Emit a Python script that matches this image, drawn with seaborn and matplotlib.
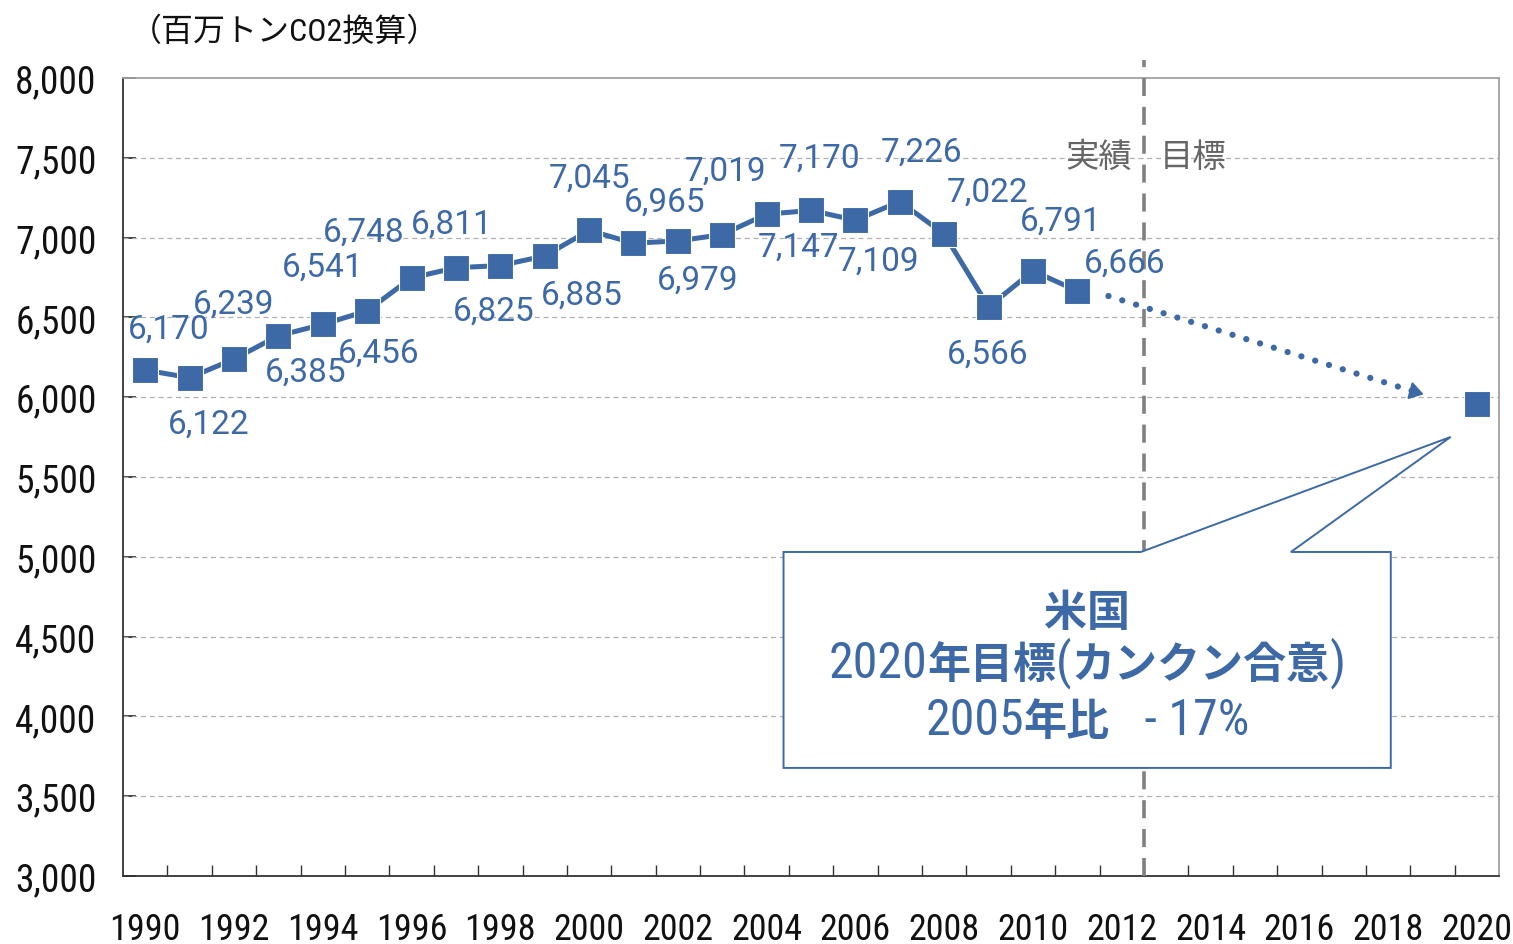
import matplotlib
matplotlib.use("Agg")
import matplotlib.pyplot as plt
from matplotlib import font_manager
from matplotlib.transforms import offset_copy
import seaborn as sns
import pandas as pd
from matplotlib.patches import Polygon
from matplotlib.ticker import FixedLocator, FuncFormatter

# ---------------- data ----------------
years = list(range(1990, 2012))
emissions = [6170, 6122, 6239, 6385, 6456, 6541, 6748, 6811, 6825, 6885,
             7045, 6965, 6979, 7019, 7147, 7170, 7109, 7226, 7022, 6566,
             6791, 6666]
target_year = [2020]
target_value = [5956]
year_ticks = list(range(1990, 2021, 2))
y_ticks = list(range(3000, 8001, 500))
unit_label = "（百万トンCO2換算）"
# callout lines split into (text, is_cjk_bold) pieces
callout_lines = [
    [("米国", True)],
    [("2020", False), ("年目標", True), ("(", False), ("カンクン合意", True), (")", False)],
    [("2005", False), ("年比", True), ("   - 17%", False)],
]
label_actual = "実績"
label_target = "目標"
# label offsets in pixels (dx, dy) relative to each point (positions only)
label_offsets = [(23, 41), (19, -46), (0, 55), (27, -36), (56, -28), (-44, 44),
                 (-48, 46), (-4, 44), (-7, -45), (37, -39), (0, 53), (31, 42),
                 (20, -39), (3, 64), (32, -33), (9, 53), (23, -40), (22, 50),
                 (43, 42), (-1, -47), (28, 50), (47, 28)]

BLUE = "#3D69A7"
GRAY = "#808080"

available = {f.name for f in font_manager.fontManager.ttflist}
narrow_pick = None
for cand in ["Liberation Sans Narrow", "DejaVu Sans Condensed",
             "Roboto Condensed", "Open Sans Condensed", "Noto Sans Condensed",
             "Arial Narrow"]:
    if cand in available:
        narrow_pick = cand
        break

sns.set_theme(style="white")
plt.rcParams['font.family'] = ['Roboto', 'Noto Sans CJK JP', 'DejaVu Sans']
if narrow_pick:
    NARROW = [narrow_pick, 'Noto Sans CJK JP', 'DejaVu Sans']
    tick_size = 27
else:
    NARROW = ['Roboto', 'Noto Sans CJK JP', 'DejaVu Sans']
    tick_size = 23
CJK = ['Noto Sans CJK JP', 'DejaVu Sans']

fig = plt.figure(figsize=(15.13, 9.45), dpi=100)
ax = fig.add_axes([0.0813, 0.0720, 0.9908 - 0.0813, 0.9164 - 0.0720])

df = pd.DataFrame({"year": years, "value": emissions})
sns.lineplot(data=df, x="year", y="value", ax=ax, color=BLUE, linewidth=3.6,
             marker="s", markersize=19, markeredgecolor="white",
             markeredgewidth=0.8, zorder=4)
dft = pd.DataFrame({"year": target_year, "value": target_value})
sns.scatterplot(data=dft, x="year", y="value", ax=ax, color=BLUE, marker="s",
                s=19 ** 2, edgecolor="white", linewidth=0.8, zorder=4)

ax.set_xlim(1989.5, 2020.5)
ax.set_ylim(3000, 8000)
ax.set_xlabel("")
ax.set_ylabel("")

# grid
for v in y_ticks[1:-1]:
    ax.axhline(v, color="#B0B0B0", lw=0.9, ls=(0, (4, 3)), zorder=1)

# ticks
ax.xaxis.set_major_locator(FixedLocator(year_ticks))
ax.xaxis.set_minor_locator(FixedLocator([y + 0.5 for y in range(1990, 2020)]))
ax.yaxis.set_major_locator(FixedLocator(y_ticks))
ax.yaxis.set_major_formatter(FuncFormatter(lambda v, p: f"{int(v):,}"))
ax.tick_params(axis="x", which="major", length=0, pad=25, labelsize=tick_size - 1,
               labelcolor="#111111")
ax.tick_params(axis="x", which="minor", direction="in", length=8, width=1,
               color="#333333", bottom=True)
ax.tick_params(axis="y", which="major", direction="in", length=9, width=1.2,
               color="#222222", pad=19, labelsize=tick_size,
               labelcolor="#111111", left=True)
for lab in ax.get_xticklabels() + ax.get_yticklabels():
    lab.set_family(NARROW)

for side in ["left", "bottom"]:
    ax.spines[side].set_color("#333333")
    ax.spines[side].set_linewidth(1.3)
for side in ["top", "right"]:
    ax.spines[side].set_color("#A0A0A0")
    ax.spines[side].set_linewidth(1.3)

# data labels
for x, v, (dx, dy) in zip(years, emissions, label_offsets):
    ax.annotate(f"{v:,}", xy=(x, v), xytext=(dx, dy),
                textcoords="offset pixels", ha="center", va="center",
                fontsize=24, color=BLUE, zorder=5)

# vertical dashed separator
ax.plot([2012.5, 2012.5], [3000, 8110], color=GRAY, lw=2.6,
        ls=(0, (5, 3)), clip_on=False, zorder=3)
ax.text(2012.5 - 0.28, 7510, label_actual, ha="right", va="center",
        fontsize=24, color="#666666", family=CJK)
ax.text(2012.5 + 0.35, 7510, label_target, ha="left", va="center",
        fontsize=24, color="#666666", family=CJK)

# dotted projection arrow
x0, y0 = 2011.70, 6634
x1, y1 = 2018.62, 6032
ax.plot([x0, x1], [y0, y1], color=BLUE, lw=4.5, ls=(0, (0.01, 2.3)),
        dash_capstyle="round", zorder=3)
ax.annotate("", xy=(2018.80, 6018), xytext=(2018.5, 6041),
            arrowprops=dict(arrowstyle="-|>,head_length=0.7,head_width=0.45",
                            color=BLUE, lw=1.5, shrinkA=0, shrinkB=0),
            zorder=3)

# callout box
poly = [(14.38, 5030), (22.43, 5030), (29.41, 5751), (25.81, 5030),
        (28.06, 5030), (28.06, 3677), (14.38, 3677)]
poly = [(1990 + px, py) for px, py in poly]
ax.add_patch(Polygon(poly, closed=True, facecolor="white", edgecolor=BLUE,
                     lw=1.4, zorder=6))
cx = 1990 + (14.38 + 28.06) / 2
baselines = [4573, 4247, 3890]

renderer = fig.canvas.get_renderer()


def piece_style(is_cjk):
    if is_cjk:
        return dict(fontsize=31, fontweight="bold", family=CJK)
    return dict(fontsize=36, fontweight="normal", family=NARROW)


for pieces, base in zip(callout_lines, baselines):
    widths = []
    for s, is_cjk in pieces:
        t = fig.text(0, 0, s, **piece_style(is_cjk))
        widths.append(t.get_window_extent(renderer).width)
        t.remove()
    total = sum(widths)
    off = -total / 2
    for (s, is_cjk), w in zip(pieces, widths):
        tr = offset_copy(ax.transData, fig=fig, x=off, y=0, units="dots")
        ax.text(cx, base, s, transform=tr, ha="left", va="baseline",
                color=BLUE, zorder=7, **piece_style(is_cjk))
        off += w

# unit label
fig.text(0.086, 0.966, unit_label, ha="left", va="center", fontsize=23,
         color="#111111", family=NARROW)

fig.savefig("out.png", dpi=100)
